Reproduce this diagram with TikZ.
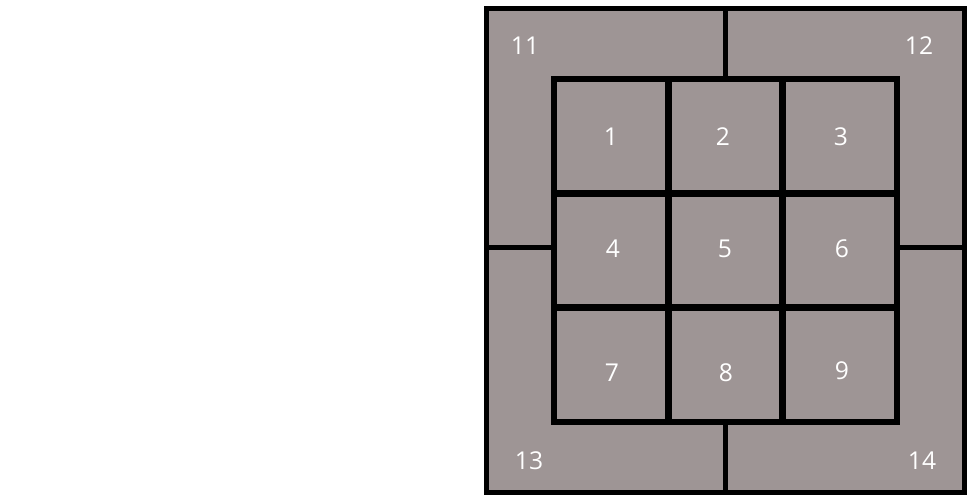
\documentclass[tikz,border=0pt]{standalone}
\usepackage{fontspec}
\setmainfont{Open Sans}
\begin{document}
\begin{tikzpicture}[x=0.02cm,y=-0.02cm]

\definecolor{tile}{RGB}{158,149,149}
\tikzset{num/.style={text=white,font=\fontsize{14}{16}\selectfont}}
\useasboundingbox (0,0) rectangle (968,498);

\def\L{486.5}; \def\R{964.5}; \def\T{8}; \def\B{492};
\def\gx{554}; \def\gy{79}; \def\h{114.2};
\def\mx{725.5}; \def\my{247.5};

\fill[tile] (\L,\T) rectangle (\R,\B);

% outer dividers
\draw[line width=0.09cm] (\mx,\T)--(\mx,\gy);
\draw[line width=0.09cm] (\mx,\gy+3*\h)--(\mx,\B);
\draw[line width=0.09cm] (\L,\my)--(\gx,\my);
\draw[line width=0.09cm] (\gx+3*\h,\my)--(\R,\my);

% inner grid
\foreach \i in {1,2}{
\draw[line width=0.14cm] (\gx+\i*\h,\gy)--(\gx+\i*\h,\gy+3*\h);
\draw[line width=0.14cm] (\gx,\gy+\i*\h)--(\gx+3*\h,\gy+\i*\h);
}
\draw[line width=0.12cm] (\gx,\gy) rectangle (\gx+3*\h,\gy+3*\h);

\draw[line width=0.1cm] (\L,\T) rectangle (\R,\B);

% labels
\foreach \n/\x/\y in {1/611/137,2/723/137,3/841/137,4/613/249,5/725/249,6/842/249,7/612/373,8/726/373,9/842/371}{
\node[num] (t\n) at (\x,\y) {\n};
}
\node[num] (t11) at (525,46) {11};
\node[num] (t12) at (919,46) {12};
\node[num] (t13) at (529,461) {13};
\node[num] (t14) at (922,461) {14};

\end{tikzpicture}
\end{document}
